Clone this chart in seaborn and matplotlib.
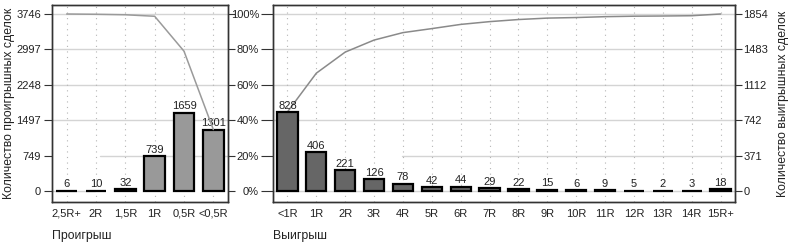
"""
Распределение сделок по R-мультипликаторам: проигрыши и выигрыши
"""

import numpy as np
import matplotlib
matplotlib.use('Agg')
import matplotlib.pyplot as plt
import seaborn as sns

sns.set_style('white')
plt.rcParams['font.family'] = ['Liberation Sans', 'DejaVu Sans']
plt.rcParams['axes.unicode_minus'] = False

# данные
loss_labels = ['2,5R+', '2R', '1,5R', '1R', '0,5R', '<0,5R']
loss_counts = [6, 10, 32, 739, 1659, 1301]
loss_ticks = [0, 749, 1497, 2248, 2997, 3746]

win_labels = ['<1R', '1R', '2R', '3R', '4R', '5R', '6R', '7R',
              '8R', '9R', '10R', '11R', '12R', '13R', '14R', '15R+']
win_counts = [828, 406, 221, 126, 78, 42, 44, 29, 22, 15, 6, 9, 5, 2, 3, 18]
win_ticks = [0, 371, 742, 1112, 1483, 1854]

pct_ticks = [0, 20, 40, 60, 80, 100]

# накопленные доли: проигрыши копятся справа налево, выигрыши слева направо
loss_cum = np.cumsum(loss_counts[::-1])[::-1] / sum(loss_counts) * 100
win_cum = np.cumsum(win_counts) / sum(win_counts) * 100

TXT = '#222222'
GRID = '#d4d4d4'
FS = 8
LFS = 8.8


def pad_limits(top):
    # 0 на 11 px выше низа, верхняя метка на 9 px ниже верха (ось 197 px)
    unit = top / 177.0
    return -11 * unit, top + 9 * unit


def style_box(ax):
    for s in ax.spines.values():
        s.set_color('#333333')
        s.set_linewidth(1.0)


fig = plt.figure(figsize=(7.9, 2.45), dpi=100)
ax1 = fig.add_axes([52 / 790, 43 / 245, 176 / 790, 197 / 245])
ax2 = fig.add_axes([273 / 790, 43 / 245, 462 / 790, 197 / 245])

# ---------- левая панель: проигрыши ----------
ax1.set_ylim(*pad_limits(loss_ticks[-1]))
for i, t in enumerate(loss_ticks):
    if i == 0:
        ax1.axhline(t, xmin=0, xmax=0.245, color=GRID, lw=1, zorder=0)
    elif i == 1:
        ax1.axhline(t, xmin=0.27, xmax=1, color=GRID, lw=1, zorder=0)
    else:
        ax1.axhline(t, color=GRID, lw=1, zorder=0)
sns.barplot(x=loss_labels, y=loss_counts, ax=ax1, color='#999999',
            saturation=1, edgecolor='black', linewidth=1.6, width=0.7, zorder=2)
ax1.bar_label(ax1.containers[0], labels=[str(v) for v in loss_counts],
              fontsize=FS, color=TXT, padding=1)
sns.lineplot(x=np.arange(len(loss_labels)), y=loss_cum / 100 * loss_ticks[-1],
             ax=ax1, color='#9a9a9a', lw=1.1, zorder=3)
ax1.set_xlim(-0.5, len(loss_labels) - 0.5)
ax1.set_yticks(loss_ticks)
ax1.set_yticklabels([str(t) for t in loss_ticks], fontsize=FS, color=TXT)
ax1.set_ylabel('Количество проигрышных сделок', fontsize=LFS, color=TXT, labelpad=1)
ax1.set_xlabel('Проигрыш', fontsize=LFS, color=TXT, loc='left', labelpad=8)
ax1.tick_params(axis='y', direction='out', length=6, width=0.8, color='#333333', pad=2, left=True)
ax1.tick_params(axis='x', length=0, labelsize=FS, labelcolor=TXT, pad=5)
ax1.grid(axis='x', color='#b5b5b5', linestyle=(0, (1, 4)), lw=0.8)
ax1.set_axisbelow(True)
ax1r = ax1.twinx()
ax1r.set_ylim(*pad_limits(100))
ax1r.set_yticks(pct_ticks)
ax1r.set_yticklabels([])
ax1r.tick_params(axis='y', direction='out', length=5, width=0.8, color='#333333', right=True)
style_box(ax1)
style_box(ax1r)

# ---------- правая панель: выигрыши ----------
ax2.set_ylim(*pad_limits(100))
for i, t in enumerate(pct_ticks):
    if i == 1:
        ax2.axhline(t, xmin=0.28, xmax=1, color=GRID, lw=1, zorder=0)
    else:
        ax2.axhline(t, color=GRID, lw=1, zorder=0)
sns.lineplot(x=np.arange(len(win_labels)), y=win_cum, ax=ax2,
             color='#8a8a8a', lw=1.1, zorder=3)
ax2.set_yticks(pct_ticks)
ax2.set_yticklabels([f'{t}%' for t in pct_ticks], fontsize=FS, color=TXT)
ax2.tick_params(axis='y', direction='out', length=9, width=0.8, color='#333333', pad=1, left=True)
ax2.grid(axis='x', color='#b5b5b5', linestyle=(0, (1, 4)), lw=0.8)
ax2.set_axisbelow(True)

ax2r = ax2.twinx()
sns.barplot(x=win_labels, y=win_counts, ax=ax2r, color='#666666',
            saturation=1, edgecolor='black', linewidth=1.6, width=0.7, zorder=2)
ax2r.bar_label(ax2r.containers[0], labels=[str(v) for v in win_counts],
               fontsize=FS, color=TXT, padding=1)
ax2r.set_ylim(*pad_limits(win_ticks[-1]))
ax2r.set_xlim(-0.5, len(win_labels) - 0.5)
ax2r.set_yticks(win_ticks)
ax2r.set_yticklabels([str(t) for t in win_ticks], fontsize=FS, color=TXT)
ax2r.set_ylabel('Количество выигрышных сделок', fontsize=LFS, color=TXT, labelpad=6)
ax2r.yaxis.set_label_position('right')
ax2r.tick_params(axis='y', direction='out', length=5, width=0.8, color='#333333', pad=1, right=True)
ax2r.tick_params(axis='x', length=0, labelsize=FS, labelcolor=TXT, pad=5)
ax2.set_xlabel('Выигрыш', fontsize=LFS, color=TXT, loc='left', labelpad=8)
ax2.tick_params(axis='x', length=0, labelsize=FS, labelcolor=TXT, pad=5)
ax2.set_xticks(np.arange(len(win_labels)))
ax2.set_xticklabels(win_labels)
ax2r.set_xlabel('')
style_box(ax2)
style_box(ax2r)

fig.savefig('out.png', dpi=100)
